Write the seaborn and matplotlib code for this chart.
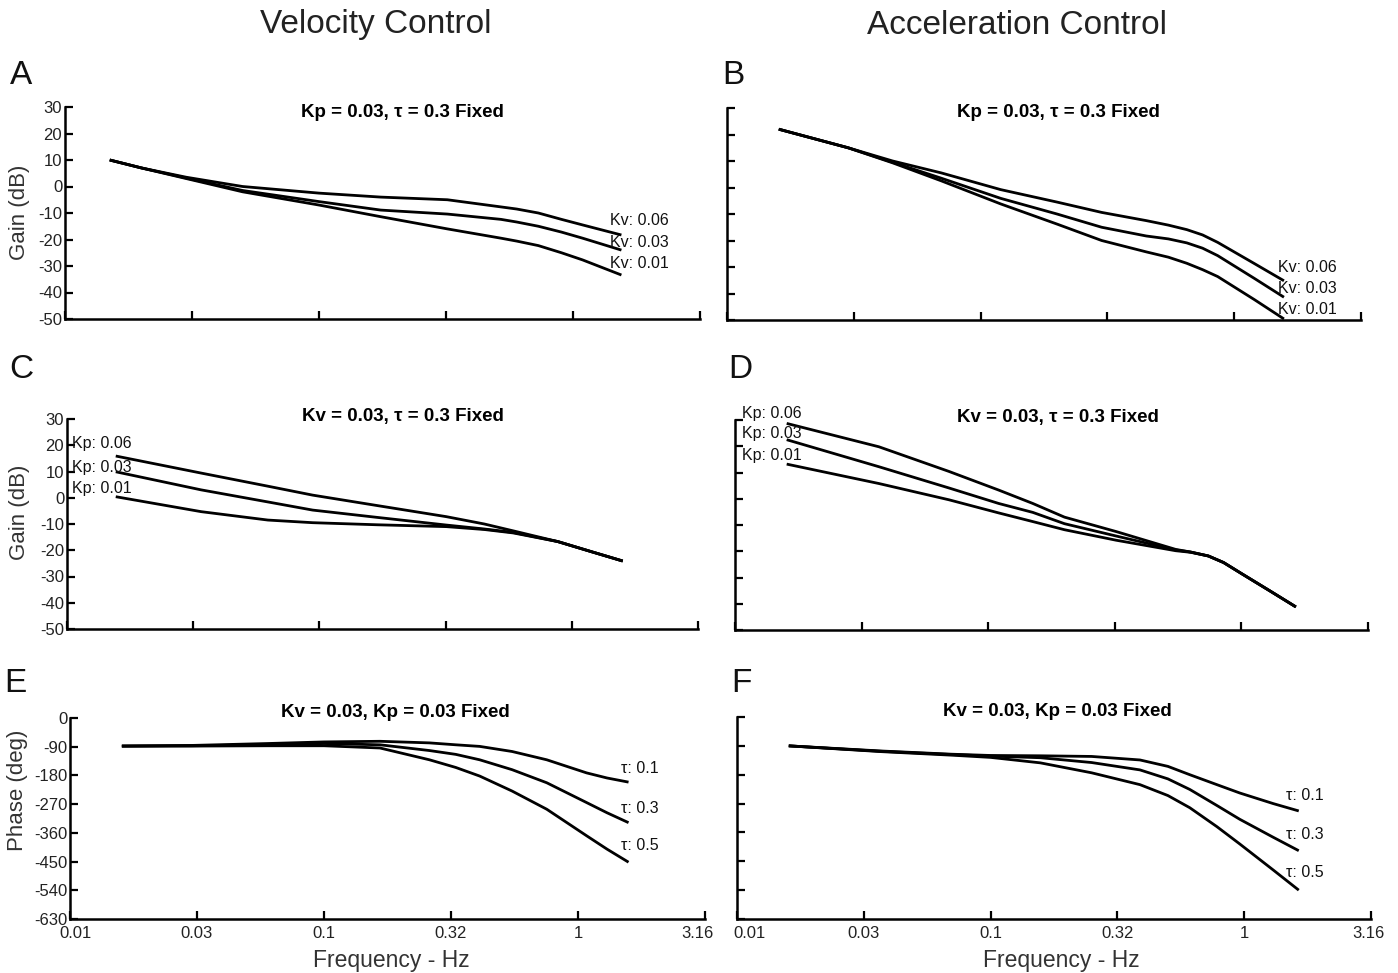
import matplotlib
matplotlib.use("Agg")
import matplotlib.pyplot as plt
import matplotlib.transforms as mtransforms
import numpy as np
import pandas as pd
import seaborn as sns

# ---------------- data ----------------
A_freq = [0.015, 0.02, 0.03, 0.05, 0.1, 0.175, 0.32, 0.52, 0.6, 0.73, 0.9, 1.09, 1.55]
A_kv06 = [10, 7, 3.5, 0, -2.5, -4, -5, -7.7, -8.5, -10, -12.4, -14.5, -18.3]
A_kv03 = [10, 7, 3.2, -1.5, -5.7, -8.9, -10.4, -12.4, -13.4, -15, -17.2, -19.5, -24]
A_kv01 = [10, 7, 3, -2, -7, -11.4, -16, -19.5, -20.6, -22.3, -25, -27.7, -33.4]

B_freq = [0.016, 0.03, 0.045, 0.07, 0.12, 0.2, 0.3, 0.45, 0.55, 0.65, 0.75, 0.86, 1.2, 1.57]
B_kv06 = [22, 15, 10, 5.5, -0.8, -5.5, -9.4, -12.5, -14.2, -15.9, -17.9, -20.7, -28.7, -35.2]
B_kv03 = [22, 15, 9.5, 3.5, -4.1, -10, -15, -18.3, -19.4, -20.9, -22.9, -25.7, -34.3, -41.4]
B_kv01 = [22, 15, 9.3, 2.5, -6.2, -13.8, -20, -24.3, -26.3, -28.6, -31, -33.6, -42.3, -49.6]

C_freq = [0.0156, 0.034, 0.0625, 0.094, 0.17, 0.318, 0.45, 0.585, 0.88, 1.2, 1.59]
C_kp06 = [15.9, 9.4, 4.4, 1.0, -3.0, -7.2, -10.0, -12.6, -16.7, -20.6, -24.1]
C_kp03 = [9.9, 3.0, -1.6, -4.7, -7.5, -10.4, -11.9, -13.2, -16.7, -20.6, -24.1]
C_kp01 = [0.4, -5.3, -8.5, -9.5, -10.3, -11.0, -12.1, -13.4, -16.7, -20.6, -24.1]

D_freq = [0.016, 0.037, 0.07, 0.11, 0.15, 0.2, 0.32, 0.55, 0.63, 0.74, 0.85, 1.0, 1.3, 1.64]
D_kp06 = [28.7, 19.8, 10.4, 3.3, -1.8, -7.0, -12.5, -19.3, -20.3, -21.8, -24.3, -28.5, -35.2, -41.2]
D_kp03 = [22.5, 12.2, 4.1, -1.8, -5.2, -9.5, -14.2, -19.5, -20.3, -21.8, -24.3, -28.5, -35.2, -41.2]
D_kp01 = [13.2, 5.8, -0.4, -5.4, -8.7, -11.8, -15.8, -19.8, -20.4, -21.8, -24.3, -28.5, -35.2, -41.2]

E_freq = [0.016, 0.03, 0.06, 0.1, 0.166, 0.26, 0.33, 0.41, 0.55, 0.753, 1.08, 1.3, 1.58]
E_tau01 = [-88, -86, -80, -75, -73, -78, -84, -89, -105, -131, -172, -188, -201]
E_tau03 = [-88, -87, -84, -80, -84, -102, -114, -131, -162, -203, -265, -297, -328]
E_tau05 = [-88, -88, -87, -87, -94, -131, -155, -182, -229, -286, -369, -411, -452]

F_freq = [0.016, 0.037, 0.07, 0.1, 0.157, 0.25, 0.388, 0.5, 0.61, 0.78, 0.96, 1.3, 1.64]
F_tau01 = [-90, -106, -116, -120, -121, -123, -134, -154, -180, -211, -237, -270, -293]
F_tau03 = [-90, -107, -117, -122, -127, -142, -165, -193, -226, -276, -319, -375, -417]
F_tau05 = [-90, -108, -119, -126, -143, -174, -211, -245, -283, -342, -396, -477, -540]

kv_labels = ["Kv: 0.06", "Kv: 0.03", "Kv: 0.01"]
kp_labels = ["Kp: 0.06", "Kp: 0.03", "Kp: 0.01"]
tau_labels = ["\u03c4: 0.1", "\u03c4: 0.3", "\u03c4: 0.5"]

gain_ticks = [30, 20, 10, 0, -10, -20, -30, -40, -50]
phase_ticks = [0, -90, -180, -270, -360, -450, -540, -630]
freq_ticks = [0.01, 0.0316, 0.1, 0.316, 1.0, 3.16]
freq_ticklabels = ["0.01", "0.03", "0.1", "0.32", "1", "3.16"]

title_AB = "Kp = 0.03, \u03c4 = 0.3 Fixed"
title_CD = "Kv = 0.03, \u03c4 = 0.3 Fixed"
title_EF = "Kv = 0.03, Kp = 0.03 Fixed"

# label anchor positions (data coords)
A_lab = (1.40, [-13, -21, -29.2])
B_lab = (1.49, [-30, -38.3, -46.2])
C_lab = (0.0105, [20.5, 11.7, 3.7])
D_lab = (0.0107, [32.3, 24.7, 16.3])
E_lab = (1.48, [-158, -283, -401])
F_lab = (1.46, [-245, -368, -486])

# ---------------- style ----------------
sns.set_style("ticks")
plt.rcParams["font.family"] = ["Liberation Sans", "DejaVu Sans"]
plt.rcParams["axes.unicode_minus"] = False

W, H = 1398, 973
fig = plt.figure(figsize=(W / 100, H / 100), dpi=100)


def rect(l, r, t, b):
    return [l / W, 1 - b / H, (r - l) / W, (b - t) / H]


panels = [
    dict(rect=rect(65, 700, 107, 319), freq=A_freq, ys=[A_kv06, A_kv03, A_kv01], names=kv_labels,
         ylim=(-50, 30), yticks=gain_ticks, ylabels=True, xlabels=False, title=title_AB,
         tpos=(0.532, 0.976), lab=A_lab, shift=(0, 0)),
    dict(rect=rect(727, 1361, 108, 320), freq=B_freq, ys=[B_kv06, B_kv03, B_kv01], names=kv_labels,
         ylim=(-50, 30), yticks=gain_ticks, ylabels=False, xlabels=False, title=title_AB,
         tpos=(0.522, 0.981), lab=B_lab, shift=(0, 0)),
    dict(rect=rect(67, 698, 419, 629), freq=C_freq, ys=[C_kp06, C_kp03, C_kp01], names=kp_labels,
         ylim=(-50, 30), yticks=gain_ticks, ylabels=True, xlabels=False, title=title_CD,
         tpos=(0.532, 1.01), lab=C_lab, shift=(0, 0)),
    dict(rect=rect(735, 1368, 420, 630), freq=D_freq, ys=[D_kp06, D_kp03, D_kp01], names=kp_labels,
         ylim=(-50, 30), yticks=gain_ticks, ylabels=False, xlabels=False, title=title_CD,
         tpos=(0.51, 1.014), lab=D_lab, shift=(0, 0)),
    dict(rect=rect(70, 705, 718, 919), freq=E_freq, ys=[E_tau01, E_tau03, E_tau05], names=tau_labels,
         ylim=(-630, 0), yticks=phase_ticks, ylabels=True, xlabels=True, title=title_EF,
         tpos=(0.513, 1.025), lab=E_lab, shift=(6, -8)),
    dict(rect=rect(737, 1371, 717, 919), freq=F_freq, ys=[F_tau01, F_tau03, F_tau05], names=tau_labels,
         ylim=(-630, 0), yticks=phase_ticks, ylabels=False, xlabels=True, title=title_EF,
         tpos=(0.506, 1.025), lab=F_lab, shift=(12, -3)),
]

for p in panels:
    ax = fig.add_axes(p["rect"])
    frames = []
    for name, vals in zip(p["names"], p["ys"]):
        frames.append(pd.DataFrame({"freq": p["freq"], "val": vals, "series": name}))
    df = pd.concat(frames, ignore_index=True)
    sns.lineplot(data=df, x="freq", y="val", hue="series", hue_order=p["names"],
                 palette={n: "black" for n in p["names"]}, legend=False,
                 linewidth=2.0, estimator=None, ax=ax)
    for ln in ax.get_lines():
        ln.set_solid_joinstyle("round")
        ln.set_solid_capstyle("butt")
    ax.set_xscale("log")
    ax.set_xlim(0.01, 3.16)
    ax.set_ylim(*p["ylim"])
    ax.minorticks_off()
    ax.set_xticks(freq_ticks)
    if p["xlabels"]:
        ax.set_xticklabels(freq_ticklabels)
    else:
        ax.set_xticklabels([])
    ax.set_yticks(p["yticks"])
    if p["ylabels"]:
        ax.set_yticklabels([str(v) for v in p["yticks"]])
    else:
        ax.set_yticklabels([])
    ax.set_xlabel("")
    ax.set_ylabel("")
    for s in ["top", "right"]:
        ax.spines[s].set_visible(False)
    for s in ["left", "bottom"]:
        ax.spines[s].set_linewidth(1.8)
        ax.spines[s].set_color("black")
    ax.tick_params(axis="both", direction="in", length=6, width=1.6, colors="black",
                   labelsize=12, labelcolor="#222222")
    ax.tick_params(axis="y", pad=2)
    ax.tick_params(axis="x", pad=5)
    ax.patch.set_alpha(0)
    if p["xlabels"]:
        labs = ax.get_xticklabels()
        first_dx, last_dx = p["shift"]
        labs[0].set_transform(labs[0].get_transform() +
                              mtransforms.ScaledTranslation(first_dx / 100, 0, fig.dpi_scale_trans))
        labs[-1].set_transform(labs[-1].get_transform() +
                               mtransforms.ScaledTranslation(last_dx / 100, 0, fig.dpi_scale_trans))
    ax.text(p["tpos"][0], p["tpos"][1], p["title"], transform=ax.transAxes,
            ha="center", va="center", fontsize=13.5, fontweight="bold", color="black")
    lx, lys = p["lab"]
    for name, ly in zip(p["names"], lys):
        ax.text(lx, ly, name, ha="left", va="center", fontsize=11.5, color="#111111")

# column titles
fig.text(376 / W, 1 - 25 / H, "Velocity Control", ha="center", va="center", fontsize=24, color="#222222")
fig.text(1017 / W, 1 - 25 / H, "Acceleration Control", ha="center", va="center", fontsize=24, color="#222222")

# panel letters
for letter, (x, y) in zip("ABCDEF", [(21, 75), (733, 75), (21, 370), (740, 370), (15, 683), (741, 683)]):
    fig.text(x / W, 1 - y / H, letter, ha="center", va="center", fontsize=24, color="#111111")

# axis labels
fig.text(20 / W, 1 - 212 / H, "Gain (dB)", rotation=90, ha="center", va="center", fontsize=16, color="#333333")
fig.text(20 / W, 1 - 512 / H, "Gain (dB)", rotation=90, ha="center", va="center", fontsize=16, color="#333333")
fig.text(18 / W, 1 - 790 / H, "Phase (deg)", rotation=90, ha="center", va="center", fontsize=16, color="#333333")
fig.text(391 / W, 1 - 960 / H, "Frequency - Hz", ha="center", va="center", fontsize=16.5, color="#333333")
fig.text(1061 / W, 1 - 960 / H, "Frequency - Hz", ha="center", va="center", fontsize=16.5, color="#333333")

fig.savefig("out.png", dpi=100)
